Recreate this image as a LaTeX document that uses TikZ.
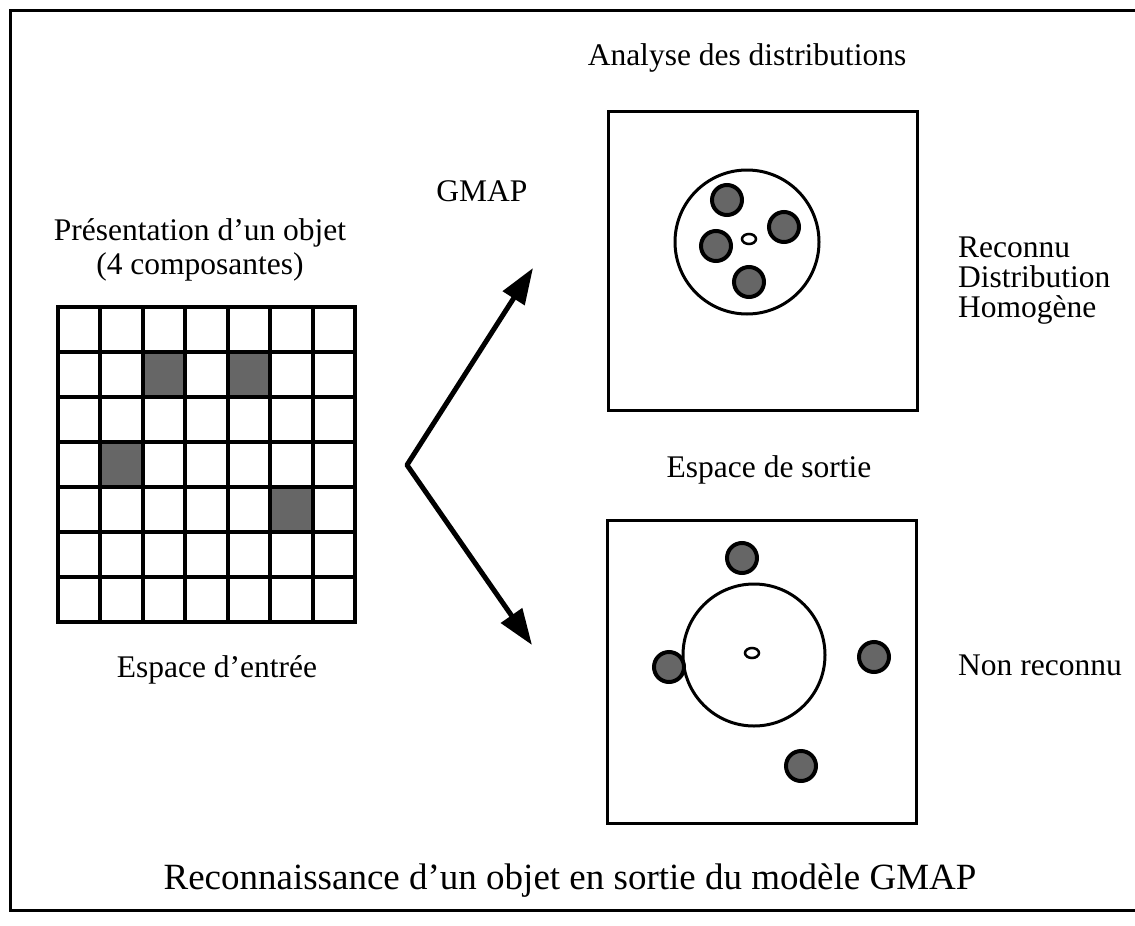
\documentclass[tikz,border=0pt]{standalone}
\usepackage{fontspec}
\setmainfont{Liberation Serif}
\usetikzlibrary{arrows.meta}
\tikzset{
  lbl/.style={inner sep=0pt, font=\fontsize{31.5}{34}\selectfont},
  blob/.style={draw=black, line width=4pt, fill=black!60},
  espace/.style={draw=black, line width=3pt, inner sep=0pt, minimum width=309pt},
}
\begin{document}
\begin{tikzpicture}[x=1pt, y=-1pt, >={Triangle[length=36pt,width=25pt]}]
\useasboundingbox (0,0) rectangle (1135,926);
% cadre
\draw[line width=3pt] (1135,10) -- (10,10) -- (10,910) -- (1135,910);

% espace d'entree : grille 7x7
\foreach \r / \c in {1/2, 1/4, 3/1, 4/5} {
  \fill[black!60] (58+\c*42.43, 307+\r*45) rectangle ++(42.43,45);
}
\foreach \i in {0,...,7} {
  \draw[line width=4pt, line cap=rect] (58+\i*42.43,307) -- (58+\i*42.43,622);
  \draw[line width=4pt, line cap=rect] (58,307+\i*45) -- (355,307+\i*45);
}

% fleches GMAP
\coordinate (fork) at (407,465);
\coordinate (tipup) at (533,268);
\coordinate (tipdown) at (532,645);
\draw[<->, line width=5pt, line join=round] (tipup) -- (fork) -- (tipdown);

% espaces de sortie
\node[espace, minimum height=299pt] (sortiehaut) at (762.5,260.5) {};
\node[espace, minimum height=303pt] (sortiebas) at (761.5,671.5) {};

\draw[line width=3pt] (747,242) circle[radius=72];
\draw[line width=2.5pt] (749,239) ellipse[x radius=7, y radius=5];
\foreach \bx / \by in {727/200, 784/227, 716/246, 749/282} {
  \draw[blob] (\bx,\by) circle[radius=15];
}

\draw[line width=3pt] (754,655) circle[radius=71];
\draw[line width=2.5pt] (752,653) ellipse[x radius=7, y radius=5];
\foreach \bx / \by in {742/558, 669/667, 801/766, 874/657} {
  \draw[blob] (\bx,\by) circle[radius=15];
}

% textes
\node[lbl, anchor=base] (titre) at (747,65) {Analyse des distributions};
\node[lbl, anchor=base] (gmap) at (482,201) {GMAP};
\node[lbl, align=center] (objet) at (200,250) {Présentation d'un objet\\(4 composantes)};
\node[lbl, anchor=base] (entree) at (217,677) {Espace d'entrée};
\node[lbl, anchor=base] (sortie) at (769,477) {Espace de sortie};
\node[lbl, anchor=west, align=left, font=\fontsize{31.5}{30}\selectfont] (reconnu) at (958,281) {Reconnu\\Distribution\\Homogène};
\node[lbl, anchor=base west] (nonrec) at (958,675) {Non reconnu};
\node[inner sep=0pt, anchor=base, font=\fontsize{37}{40}\selectfont] (legende) at (570,889) {Reconnaissance d'un objet en sortie du modèle GMAP};
\end{tikzpicture}
\end{document}
